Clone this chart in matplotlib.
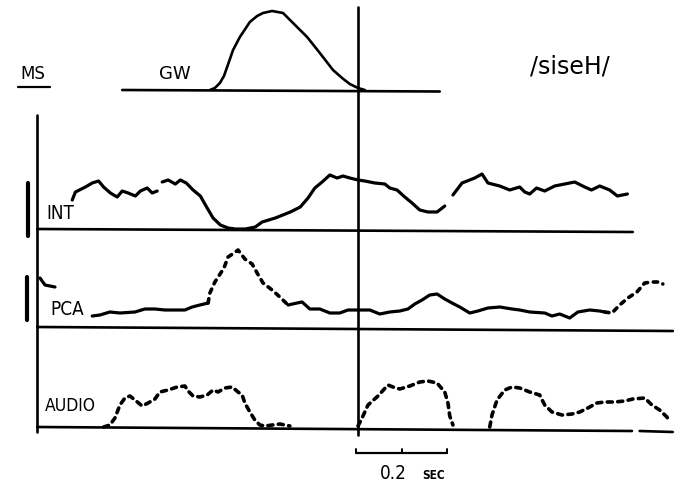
import numpy as np
import matplotlib.pyplot as plt

# === dati: tempo in ms rispetto al punto di allineamento, ampiezza in unita' arbitrarie ===
gw_t = [-326, -315, -304, -295, -288, -275, -260, -238, -222, -209, -189, -165, -143, -112,
        -84, -55, -35, -18, 0, 15]
gw_v = [0, 2, 7, 14, 23, 40, 53, 68, 74, 77, 79, 77, 67, 53, 37, 20, 12, 6, 2, 0]

nan = np.nan

int_t = [-629, -622, -600, -585, -571, -560, -545, -530, -519, -506, -490, -479, -464, -453, -442,
         -436,
         -431, -418, -402, -391, -378, -363, -347, -332, -319, -303, -286, -270, -248, -226, -211,
         -182, -149, -127, -110, -95, -79, -62, -46, -33, -18, 0, 15, 37, 59, 70, 86, 103, 119,
         136, 154, 174, 191,
         200,
         209, 229, 257, 273, 286, 312, 334, 356, 367, 378, 393, 411, 433, 455, 477, 499, 514,
         532, 554, 571, 593]
int_v = [29, 37, 42, 46, 48, 42, 36, 32, 38, 36, 33, 38, 41, 36, 38,
         nan,
         47, 49, 45, 49, 46, 39, 33, 21, 11, 4, 1, 0, 0, 2, 7,
         11, 17, 22, 31, 41, 47, 54, 51, 53, 51, 49, 48, 46, 45, 41, 39, 32, 26,
         19, 17, 17, 23,
         nan,
         34, 46, 51, 55, 46, 43, 39, 42, 37, 35, 41, 38, 43, 45, 47, 42, 39,
         43, 39, 33, 35]

pca_t = [-700, -689, -667,
         -620,
         -585, -568, -546, -524, -491, -469, -447, -425, -403, -381, -365, -348, -330,
         -326, -315, -295, -286, -273, -264, -249, -233, -222, -209, -189, -172, -154,
         -134, -123, -106, -84, -62, -40, -22, 0, 26, 48, 70, 92, 110, 125, 141, 158, 174,
         191, 207, 224, 246, 264, 286, 312, 339, 356, 378, 411, 427, 444, 466, 484, 510,
         532, 543, 559, 576, 594, 614, 631, 647, 664, 671]
pca_v = [49, 42, 40,
         nan,
         11, 12, 15, 14, 15, 18, 18, 17, 17, 17, 20, 22, 24,
         34, 45, 59, 70, 74, 77, 68, 63, 54, 44, 37, 30, 22,
         24, 25, 18, 18, 14, 14, 17, 17, 17, 13, 15, 16, 18, 23, 27, 32, 33,
         28, 24, 20, 14, 16, 19, 20, 18, 17, 15, 14, 11, 13, 9, 15, 17,
         16, 15, 14, 22, 29, 35, 44, 45, 45, 43]

audio_t = [-560, -546, -535, -524, -513, -502, -491, -475, -462, -447, -436, -418, -398, -381,
           -374, -363, -348, -332, -319, -308, -293, -277, -264, -255, -249, -238, -227, -216,
           -205, -172, -150,
           -75,
           0, 9, 22, 44, 66, 77, 92, 114, 136, 154, 174, 191, 198, 202, 209,
           250,
           290, 295, 306, 323, 339, 356, 378, 400, 411, 427, 449, 471, 488, 506, 526, 543,
           565, 587, 605, 631, 647, 664, 680, 686]
audio_v = [0, 2, 9, 22, 29, 31, 27, 21, 24, 28, 35, 37, 40, 41,
           36, 31, 30, 32, 37, 35, 39, 40, 35, 32, 24, 15, 7, 2,
           1, 3, 1,
           nan,
           1, 9, 22, 31, 42, 40, 38, 41, 45, 46, 44, 35, 24, 11, 2,
           nan,
           0, 12, 27, 37, 40, 39, 35, 32, 22, 15, 12, 13, 15, 19, 24, 25,
           25, 26, 28, 29, 22, 17, 10, 5]

# === impaginazione (coordinate verticali in pixel) ===
Y_GW, Y_INT, Y_PCA, Y_AUD = 90, 229, 327, 427
LEFT, RIGHT = -706, 693

fig = plt.figure(figsize=(6.76, 4.9), dpi=100)
ax = fig.add_axes([0, 0, 1, 1])
ax.set_xlim(-788, 700)
ax.set_ylim(490, 0)
ax.axis('off')

k = dict(color='black', solid_capstyle='round', solid_joinstyle='round')
LW_TR = 2.3
LW_AX = 1.9

# assi e linee di base
ax.plot([-519, 180], [Y_GW, Y_GW + 1.5], lw=LW_AX, **k)
ax.plot([LEFT, 605], [Y_INT, Y_INT + 3], lw=LW_AX, **k)
ax.plot([LEFT, RIGHT], [Y_PCA, Y_PCA + 4], lw=LW_AX, **k)
ax.plot([LEFT, 603], [Y_AUD, Y_AUD + 4], lw=LW_AX, **k)
ax.plot([620, RIGHT], [Y_AUD + 4, Y_AUD + 5], lw=LW_AX, **k)
ax.plot([LEFT, LEFT], [115, 432], lw=LW_AX, **k)
ax.plot([0, 0], [7, 435], lw=LW_AX, **k)

# barre di calibrazione
ax.plot([-726, -726], [183, 236], lw=3.0, **k)
ax.plot([-728, -728], [277, 320], lw=3.0, **k)

# GW
ax.plot(gw_t, Y_GW - np.array(gw_v), lw=1.9, **k)

# INT
ax.plot(int_t, Y_INT - np.array(int_v), lw=LW_TR, **k)

# PCA: tratti pieni e tratti punteggiati
pt = np.array(pca_t)
pv = Y_PCA - np.array(pca_v)
dotted = ((pt >= -330) & (pt <= -154)) | (pt >= 543)
solid = ~(((pt > -330) & (pt < -154)) | (pt > 543))
ax.plot(pt, np.where(solid, pv, nan), lw=LW_TR, **k)
ax.plot(pt, np.where(dotted, pv, nan), lw=2.6, color='black',
        linestyle=(0, (1.2, 1.6)), dash_capstyle='round')

# AUDIO
ax.plot(audio_t, Y_AUD - np.array(audio_v), lw=2.6, color='black',
        linestyle=(0, (1.4, 1.5)), dash_capstyle='round')

# scala temporale
ax.plot([-4, 196], [453, 453], lw=1.6, **k)
for tk in [-4, 96, 196]:
    ax.plot([tk, tk], [449, 453], lw=1.4, **k)

# testi
narrow = ['Liberation Sans Narrow', 'DejaVu Sans']
lab = dict(ha='center', va='center', family=narrow, fontstretch='condensed')
ax.text(-715, 74, 'MS', fontsize=12, ha='center', va='center', family='DejaVu Sans')
ax.plot([-748, -678], [87, 87], lw=1.6, **k)
ax.text(-403, 74, 'GW', fontsize=13, ha='center', va='center', family='DejaVu Sans')
ax.text(466, 67, '/siseH/', fontsize=17, ha='center', va='center', family='DejaVu Sans')
ax.text(-655, 213, 'INT', fontsize=13.5, **lab)
ax.text(-640, 309, 'PCA', fontsize=13.5, **lab)
ax.text(-632, 406, 'AUDIO', fontsize=12.5, **lab)
ax.text(78, 473, '0.2', fontsize=13.5, **lab)
ax.text(167, 475, 'SEC', fontsize=8.5, fontweight='bold', **lab)

fig.savefig('out.png', dpi=100, facecolor='white')
